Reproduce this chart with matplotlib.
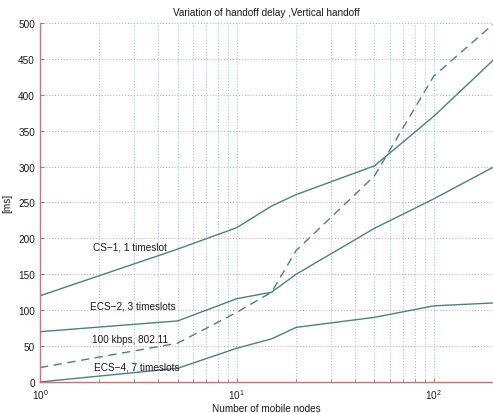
import matplotlib.pyplot as plt
import numpy as np

# numero de nodos moviles
nodes = [1, 5, 10, 15, 20, 50, 100, 200]

# retardo de handoff [ms]
cs1 = [120, 185, 215, 245, 261, 301, 370, 448]
ecs2 = [70, 85, 116, 125, 150, 214, 255, 299]
wlan = [20, 54, 97, 125, 183, 287, 426, 498]
ecs4 = [0, 19, 47, 60, 76, 90, 106, 110]

labels = ["CS\u22121, 1 timeslot", "ECS\u22122, 3 timeslots",
          "100 kbps, 802.11", "ECS\u22124, 7 timeslots"]
yticks = [0, 50, 100, 150, 200, 250, 300, 350, 400, 450, 500]

plt.rcParams['font.family'] = ['Liberation Sans', 'DejaVu Sans']
lc = '#4a8282'
tc = '#1a1a1a'
fs = 7.2

fig = plt.figure(figsize=(4.93, 4.14), dpi=100)
ax = fig.add_axes([0.081, 0.075, 0.919, 0.867])

ax.plot(nodes, cs1, color=lc, lw=1.0)
ax.plot(nodes, ecs2, color=lc, lw=1.0)
ax.plot(nodes, wlan, color=lc, lw=1.0, ls=(0, (6, 4)))
ax.plot(nodes, ecs4, color=lc, lw=1.0)

ax.set_xscale('log')
ax.set_xlim(1, 200)
ax.set_ylim(0, 500)
ax.set_yticks(yticks)

ax.grid(True, which='both', axis='x', color='#8cc4c4', ls=(0, (1, 2)), lw=0.7)
ax.grid(True, which='major', axis='y', color='#c8a0a0', ls=(0, (1, 2)), lw=0.7)

for s in ['top', 'right']:
    ax.spines[s].set_visible(False)
for s in ['left', 'bottom']:
    ax.spines[s].set_color('#c07878')
    ax.spines[s].set_linewidth(1.0)

ax.tick_params(which='both', direction='in', colors='#888888', labelcolor=tc,
               labelsize=fs, length=3)
ax.tick_params(which='minor', length=2)

# etiquetas de cada curva
ax.text(2.86, 189, labels[0], fontsize=fs, color=tc, ha='center', va='center')
ax.text(2.97, 107, labels[1], fontsize=fs, color=tc, ha='center', va='center')
ax.text(2.86, 60, labels[2], fontsize=fs, color=tc, ha='center', va='center')
ax.text(3.11, 21, labels[3], fontsize=fs, color=tc, ha='center', va='center')

ax.set_title('Variation of handoff delay ,Vertical handoff', fontsize=fs,
             color=tc, pad=6)
ax.set_xlabel('Number of mobile nodes', fontsize=fs, color=tc, labelpad=2)
ax.set_ylabel('[ms]', fontsize=fs, color=tc, labelpad=4)

fig.savefig('out.png', dpi=100)
